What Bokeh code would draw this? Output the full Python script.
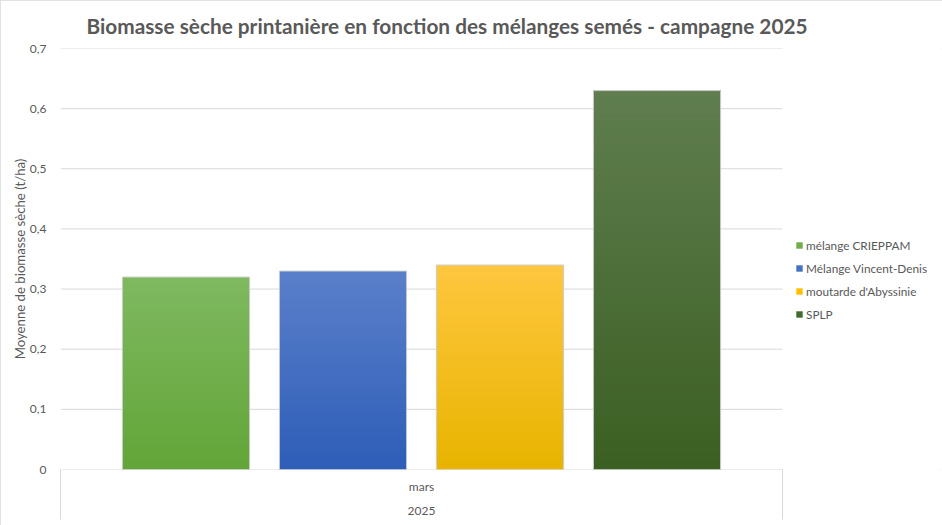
import numpy as np
from bokeh.plotting import figure
from bokeh.models import Range1d, FixedTicker, CustomJSTickFormatter, Legend, LegendItem, LinearAxis
from bokeh.embed import file_html
from bokeh.resources import INLINE

# ---- data ----
series = ["mélange CRIEPPAM", "Mélange Vincent-Denis", "moutarde d'Abyssinie", "SPLP"]
values = [0.32, 0.33, 0.34, 0.63]
month_label = "mars"
year_label = "2025"
y_ticks = [0, 0.1, 0.2, 0.3, 0.4, 0.5, 0.6, 0.7]
y_tick_labels = ["0", "0,1", "0,2", "0,3", "0,4", "0,5", "0,6", "0,7"]
title_text = "Biomasse sèche printanière en fonction des mélanges semés - campagne 2025"
y_title = "Moyenne de biomasse sèche (t/ha)"

# ---- styles / layout ----
legend_colors = ["#70AD47", "#4472C4", "#FFC000", "#416B2C"]
top_colors = [(127, 185, 97), (91, 128, 202), (254, 199, 64), (96, 126, 80)]
bottom_colors = [(99, 165, 56), (46, 94, 184), (232, 180, 0), (59, 95, 34)]
TXT = "#595959"
GRID = "#d9d9d9"
FONT = "Lato"

W, H = 942, 525
LEFT, TOP, BOTTOM = 60, 48, 56
PLOT_W = 722          # width of the category area in px
PX_PER_UNIT = 157.0   # distance between bar centres in px

x_pos = np.arange(len(series), dtype=float)
bar_w = 0.81
center = float(np.mean(x_pos))
x0 = center - PLOT_W / 2 / PX_PER_UNIT
x1 = center + PLOT_W / 2 / PX_PER_UNIT
x_end = x0 + (W - LEFT) / PX_PER_UNIT

p = figure(width=W, height=H, output_backend="svg", toolbar_location=None,
           x_range=Range1d(x0, x_end), y_range=Range1d(0, 0.7),
           min_border_left=LEFT, min_border_right=0, min_border_top=TOP, min_border_bottom=BOTTOM)
p.outline_line_color = None
p.background_fill_color = "white"
p.border_fill_color = "white"
p.styles = {"outline": "1px solid #d9d9d9", "outline-offset": "-1px"}

# title
p.title.text = title_text
p.title.text_font = FONT
p.title.text_font_size = "20.8px"
p.title.text_font_style = "bold"
p.title.text_color = TXT
p.title.align = "left"
p.title.offset = 26
p.title.standoff = 21

# grid (limited to the category area)
p.xgrid.visible = False
p.ygrid.visible = False
p.segment(x0=[x0] * len(y_ticks), x1=[x1] * len(y_ticks), y0=y_ticks, y1=y_ticks,
          line_color=GRID, line_width=1)

# y axis
ya = p.yaxis[0]
ya.ticker = FixedTicker(ticks=y_ticks)
ya.formatter = CustomJSTickFormatter(args=dict(t=y_ticks, l=y_tick_labels), code="""
    let best = 0, d = 1e9;
    for (let i = 0; i < t.length; i++) { const e = Math.abs(t[i] - tick); if (e < d) { d = e; best = i; } }
    return l[best];
""")
ya.axis_line_color = None
ya.major_tick_line_color = None
ya.minor_tick_line_color = None
ya.major_tick_out = 0
ya.minor_tick_out = 0
ya.major_label_text_font = FONT
ya.major_label_text_font_size = "12px"
ya.major_label_text_color = TXT
ya.major_label_standoff = 14
ya.axis_label = y_title
ya.axis_label_text_font = FONT
ya.axis_label_text_font_size = "13.2px"
ya.axis_label_text_font_style = "normal"
ya.axis_label_text_color = TXT
ya.axis_label_standoff = -1

# x axis: category label, boundary lines as long minor ticks
xa = p.xaxis[0]
xa.ticker = FixedTicker(ticks=[center], minor_ticks=[x0, x1])
xa.major_label_overrides = {center: month_label}
xa.axis_line_color = None
xa.major_tick_line_color = None
xa.major_tick_out = 0
xa.major_tick_in = 0
xa.minor_tick_line_color = GRID
xa.minor_tick_out = 50
xa.minor_tick_in = 0
xa.major_label_text_font = FONT
xa.major_label_text_font_size = "12px"
xa.major_label_text_color = TXT
xa.major_label_standoff = -41

# second level of the category axis: the year
xa2 = LinearAxis(ticker=FixedTicker(ticks=[center], minor_ticks=[]))
xa2.major_label_overrides = {center: year_label}
xa2.axis_line_color = None
xa2.major_tick_line_color = None
xa2.minor_tick_line_color = None
xa2.major_tick_out = 0
xa2.major_tick_in = 0
xa2.minor_tick_out = 0
xa2.minor_tick_in = 0
xa2.major_label_text_font = FONT
xa2.major_label_text_font_size = "12px"
xa2.major_label_text_color = TXT
xa2.major_label_standoff = 10
p.add_layout(xa2, "below")

# bars with vertical gradient
N = 48
legend_items = []
for i, name in enumerate(series):
    v = values[i]
    xl, xr = x_pos[i] - bar_w / 2, x_pos[i] + bar_w / 2
    base = p.quad(left=[xl], right=[xr], bottom=[0], top=[v],
                  fill_color=legend_colors[i], line_color=None)
    fr = np.arange(N) / N
    b = np.array(bottom_colors[i], dtype=float)
    t = np.array(top_colors[i], dtype=float)
    cols = ["#%02x%02x%02x" % tuple(int(round(c)) for c in (b + (t - b) * f)) for f in fr]
    p.quad(left=np.full(N, xl), right=np.full(N, xr), bottom=v * fr, top=np.full(N, v),
           fill_color=cols, line_color=None)
    p.quad(left=[xl], right=[xr], bottom=[0], top=[v],
           fill_color=None, line_color="#cfcfcf", line_width=1)
    legend_items.append(LegendItem(label=name, renderers=[base]))

legend = Legend(items=legend_items, location=(735, 145))
legend.label_text_font = FONT
legend.label_text_font_size = "11.8px"
legend.label_text_color = TXT
legend.glyph_width = 8
legend.glyph_height = 8
legend.label_standoff = 3
legend.label_height = 20
legend.spacing = 3
legend.padding = 0
legend.margin = 0
legend.border_line_color = None
legend.background_fill_alpha = 0
p.add_layout(legend)

open("out.html", "w").write(file_html(p, INLINE))
